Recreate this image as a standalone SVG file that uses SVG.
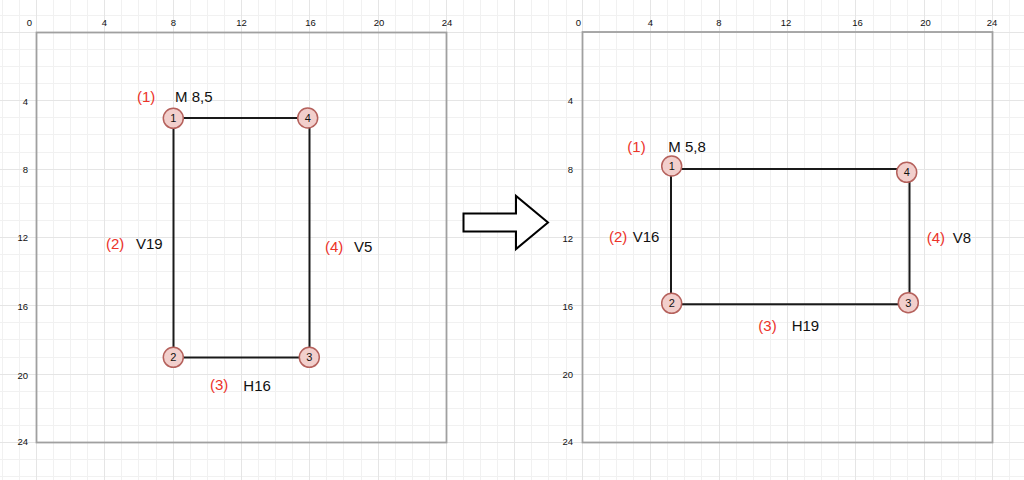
<svg xmlns="http://www.w3.org/2000/svg" width="1024" height="480" viewBox="0 0 1024 480">
<style>
.minor{stroke:#f1f1f1;stroke-width:1;fill:none}
.major{stroke:#e5e5e5;stroke-width:1;fill:none}
.frame{fill:none;stroke:#a0a0a0;stroke-width:1.8}
.ax{font-family:"Liberation Sans",Arial,sans-serif;font-size:9.5px;fill:#111}
.axl{text-anchor:end}
.axt{text-anchor:middle}
.edge{fill:none;stroke:#1a1a1a;stroke-width:2;stroke-linejoin:miter}
.pt circle{fill:#f2cfcc;stroke:#b5615c;stroke-width:1.5}
.pt text{font-family:"Liberation Sans",Arial,sans-serif;font-size:11px;fill:#111;text-anchor:middle}
.lbl{font-family:"Liberation Sans",Arial,sans-serif;font-size:15px}
.red{fill:#ec3329}
.blk{fill:#111}
</style>
<rect x="0" y="0" width="1024" height="480" fill="#ffffff"/>
<g id="grid">
<path class="minor" d="M2.5 0V480M19.5 0V480M53.5 0V480M70.5 0V480M87.5 0V480M121.5 0V480M138.5 0V480M156.5 0V480M190.5 0V480M207.5 0V480M224.5 0V480M258.5 0V480M275.5 0V480M292.5 0V480M326.5 0V480M343.5 0V480M361.5 0V480M395.5 0V480M412.5 0V480M429.5 0V480M463.5 0V480M480.5 0V480M497.5 0V480M531.5 0V480M548.5 0V480M566.5 0V480M599.5 0V480M616.5 0V480M633.5 0V480M667.5 0V480M684.5 0V480M701.5 0V480M736.5 0V480M753.5 0V480M770.5 0V480M804.5 0V480M821.5 0V480M838.5 0V480M873.5 0V480M890.5 0V480M907.5 0V480M941.5 0V480M958.5 0V480M975.5 0V480M1009.5 0V480M0 15.5H1024M0 49.5H1024M0 66.5H1024M0 83.5H1024M0 117.5H1024M0 134.5H1024M0 152.5H1024M0 186.5H1024M0 203.5H1024M0 220.5H1024M0 254.5H1024M0 271.5H1024M0 288.5H1024M0 322.5H1024M0 339.5H1024M0 357.5H1024M0 391.5H1024M0 408.5H1024M0 425.5H1024M0 459.5H1024M0 476.5H1024"/>
<path class="major" d="M36.5 0V480M104.5 0V480M173.5 0V480M241.5 0V480M309.5 0V480M378.5 0V480M446.5 0V480M514.5 0V480M582.5 0V480M650.5 0V480M719.5 0V480M787.5 0V480M855.5 0V480M924.5 0V480M992.5 0V480M0 32.5H1024M0 100.5H1024M0 169.5H1024M0 237.5H1024M0 305.5H1024M0 374.5H1024M0 442.5H1024"/>
</g>
<g id="left-panel">
<rect class="frame" x="36.5" y="32.5" width="410" height="410"/>
<g class="ax axt">
<text x="29.5" y="26">0</text><text x="104.5" y="26">4</text><text x="173.5" y="26">8</text><text x="241.5" y="26">12</text><text x="310.5" y="26">16</text><text x="379" y="26">20</text><text x="447" y="26">24</text>
</g>
<g class="ax axl">
<text x="28" y="104.5">4</text><text x="28" y="172.5">8</text><text x="28" y="241">12</text><text x="28" y="310">16</text><text x="28" y="378.5">20</text><text x="28" y="445">24</text>
</g>
</g>
<g id="right-panel">
<rect class="frame" x="582.5" y="32" width="410" height="410.5"/>
<g class="ax axt">
<text x="578.5" y="26">0</text><text x="650.5" y="26">4</text><text x="719" y="26">8</text><text x="786" y="26">12</text><text x="857.5" y="26">16</text><text x="925.5" y="26">20</text><text x="992" y="26">24</text>
</g>
<g class="ax axl">
<text x="573" y="104.3">4</text><text x="573" y="172.7">8</text><text x="573" y="241.5">12</text><text x="573" y="310">16</text><text x="573" y="378.3">20</text><text x="573" y="445">24</text>
</g>
</g>
<g id="connectors">
<path class="edge" d="M173.5 118H309.5V357.5H173.5Z"/>
<path class="edge" d="M671 169H909.5V304.3H671Z"/>
</g>
<g id="arrow">
<polygon points="463.5,213.5 516,213.5 516,196 548,222.5 516,249 516,231.5 463.5,231.5" fill="#ffffff" stroke="#000" stroke-width="2" stroke-linejoin="miter"/>
</g>
<g id="L1" class="pt"><circle cx="173.3" cy="118.3" r="10"/><text x="173.3" y="122.2">1</text></g>
<g id="L4" class="pt"><circle cx="307.7" cy="118" r="10"/><text x="307.7" y="122">4</text></g>
<g id="L2" class="pt"><circle cx="173.3" cy="357.3" r="10"/><text x="173.3" y="361.2">2</text></g>
<g id="L3" class="pt"><circle cx="309.3" cy="357.3" r="10"/><text x="309.3" y="361.2">3</text></g>
<g id="R1" class="pt"><circle cx="671.7" cy="166" r="10"/><text x="671.7" y="170">1</text></g>
<g id="R4" class="pt"><circle cx="906.7" cy="172.3" r="10"/><text x="906.7" y="176.2">4</text></g>
<g id="R2" class="pt"><circle cx="671.7" cy="303.3" r="10"/><text x="671.7" y="307.2">2</text></g>
<g id="R3" class="pt"><circle cx="908.3" cy="302.7" r="10"/><text x="908.3" y="306.6">3</text></g>
<g id="L-labels" class="lbl">
<text class="red" x="137" y="102">(1)</text><text class="blk" x="175" y="102">M 8,5</text>
<text class="red" x="106" y="249.3">(2)</text><text class="blk" x="136" y="249.3">V19</text>
<text class="red" x="325" y="251.8">(4)</text><text class="blk" x="354" y="251.8">V5</text>
<text class="red" x="210" y="390">(3)</text><text class="blk" x="243.3" y="391">H16</text>
</g>
<g id="R-labels" class="lbl">
<text class="red" x="627.3" y="151.5">(1)</text><text class="blk" x="668.3" y="151.5">M 5,8</text>
<text class="red" x="609" y="242.3">(2)</text><text class="blk" x="632.7" y="242.3">V16</text>
<text class="red" x="926.7" y="243.3">(4)</text><text class="blk" x="952.7" y="243.3">V8</text>
<text class="red" x="758.3" y="330.7">(3)</text><text class="blk" x="791.7" y="330.7">H19</text>
</g>
</svg>
